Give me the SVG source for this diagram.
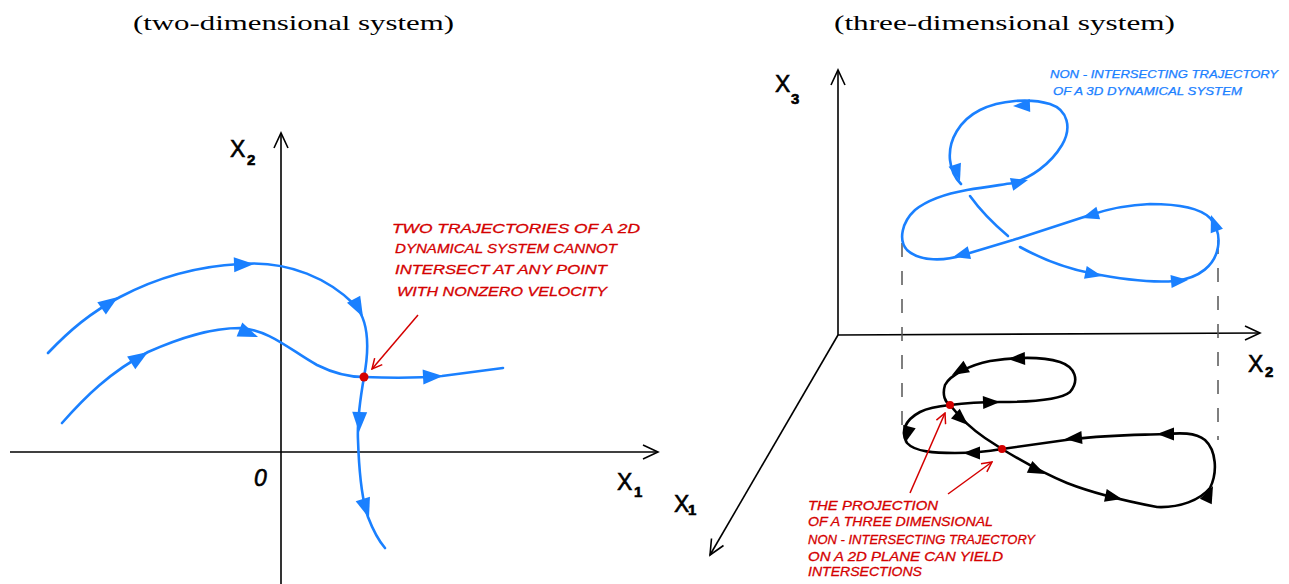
<svg xmlns="http://www.w3.org/2000/svg" xmlns:xlink="http://www.w3.org/1999/xlink" width="1289" height="584" viewBox="0 0 1289 584">
<style>
.title{font-family:"Liberation Serif","DejaVu Serif",serif;font-size:22px;fill:#000}
.ax{stroke:#000;stroke-width:1.6;fill:none}
.axl{font-family:"Liberation Sans","DejaVu Sans",sans-serif;font-size:23px;fill:#000;stroke:#000;stroke-width:0.6}
.sub{font-size:15px;font-weight:bold}
.blue{stroke:#1a80ff;stroke-width:2.6;fill:none;stroke-linecap:round;stroke-linejoin:round}
.blk{stroke:#000;stroke-width:2.6;fill:none;stroke-linecap:round;stroke-linejoin:round}
.red{stroke:#d40000;stroke-width:1.5;fill:none}
.rtxt{font-family:"Liberation Sans","DejaVu Sans",sans-serif;font-size:13px;fill:#d40000;stroke:#d40000;stroke-width:0.3;font-style:italic}
.btxt{font-family:"Liberation Sans","DejaVu Sans",sans-serif;font-size:10.5px;fill:#1a80ff;stroke:#1a80ff;stroke-width:0.25;font-style:italic}
.dash{stroke:#555;stroke-width:1.5;stroke-dasharray:14 14;fill:none}
</style>
<defs>
<path id="ah" d="M0,0 L-20,-7.5 L-20,7.5 Z"/>
<path id="ahs" d="M0,0 L-17,-6.5 L-17,6.5 Z"/>
<marker id="rarr" viewBox="0 0 12 12" refX="11" refY="6" markerWidth="12" markerHeight="12" markerUnits="userSpaceOnUse" orient="auto">
<path d="M1,1 L11,6 L1,11" fill="none" stroke="#d40000" stroke-width="1.5"/>
</marker>
</defs>
<rect width="1289" height="584" fill="#fff"/>

<text class="title" x="293.5" y="30" text-anchor="middle" textLength="321" lengthAdjust="spacingAndGlyphs">(two-dimensional system)</text>
<text class="title" x="1004.5" y="30" text-anchor="middle" textLength="341" lengthAdjust="spacingAndGlyphs">(three-dimensional system)</text>

<g id="left-axes">
<line class="ax" x1="10" y1="452" x2="658" y2="452"/>
<polyline class="ax" points="643,445 658,452 643,459"/>
<line class="ax" x1="281" y1="584" x2="281" y2="133"/>
<polyline class="ax" points="274,148 281,133 288,148"/>
<text class="axl" x="230" y="157">X<tspan class="sub" x="247" y="165">2</tspan></text>
<text class="axl" x="617" y="490">X<tspan class="sub" x="634" y="497">1</tspan></text>
<text class="axl" x="254" y="486" font-style="italic" font-size="27">0</text>
</g>

<g id="left-trajectories">
<path class="blue" d="M48,353 C70,330 90,313 120,297 C160,276 200,266 240,264 C290,260 330,280 355,305 C368,320 370,345 364,377 C360,400 357,420 358,440 C359,470 362,500 368,517 C373,530 378,540 385,548"/>
<path class="blue" d="M62,423 C85,397 110,372 148,352 C180,338 210,328 240,328 C270,330 290,350 317,365 C335,374 350,377 364,377 C390,378 420,378 442,376 L503,368"/>
<g fill="#1a80ff">
<use xlink:href="#ah" transform="translate(118,297) rotate(-35)"/>
<use xlink:href="#ah" transform="translate(254,264) rotate(-2)"/>
<use xlink:href="#ah" transform="translate(363,317) rotate(62)"/>
<use xlink:href="#ah" transform="translate(359,432) rotate(92)"/>
<use xlink:href="#ah" transform="translate(369,518) rotate(72)"/>
<use xlink:href="#ah" transform="translate(148,352) rotate(-33)"/>
<use xlink:href="#ah" transform="translate(258,337) rotate(22)"/>
<use xlink:href="#ah" transform="translate(443,376) rotate(-3)"/>
</g>
<circle cx="364" cy="377" r="4.5" fill="#d40000"/>
<line class="red" x1="418" y1="315" x2="372" y2="369" marker-end="url(#rarr)"/>
<text class="rtxt" x="392" y="233" textLength="248" lengthAdjust="spacingAndGlyphs">TWO TRAJECTORIES   OF A 2D</text>
<text class="rtxt" x="395" y="253" textLength="222" lengthAdjust="spacingAndGlyphs">DYNAMICAL SYSTEM CANNOT</text>
<text class="rtxt" x="395" y="274" textLength="212" lengthAdjust="spacingAndGlyphs">INTERSECT AT ANY POINT</text>
<text class="rtxt" x="397" y="296" textLength="210" lengthAdjust="spacingAndGlyphs">WITH NONZERO VELOCITY</text>
</g>

<g id="right-axes">
<line class="ax" x1="838" y1="335" x2="838" y2="70"/>
<polyline class="ax" points="831,85 838,70 845,85"/>
<line class="ax" x1="838" y1="335" x2="1260" y2="333"/>
<polyline class="ax" points="1245,326 1260,333 1245,340"/>
<line class="ax" x1="838" y1="335" x2="710" y2="555"/>
<polyline class="ax" points="711.5,538.5 710,555 723.5,545.5"/>
<text class="axl" x="775" y="92">X<tspan class="sub" x="791" y="104">3</tspan></text>
<text class="axl" x="1248" y="372">X<tspan class="sub" x="1265" y="377">2</tspan></text>
<text class="axl" x="674" y="512">X<tspan class="sub" x="688" y="515">1</tspan></text>
<line class="dash" x1="902" y1="243" x2="902" y2="432"/>
<line class="dash" x1="1218" y1="240" x2="1218" y2="440"/>
</g>

<g id="trajectory-3d">
<path class="blue" d="M1020,247 C1040,258 1065,268 1090,273 C1120,279 1150,283 1175,281 C1200,278 1215,265 1218,247 C1220,235 1216,225 1210,218 C1200,208 1180,204 1150,204 C1125,205 1105,210 1090,215 L1013,240 L963,255 C945,261 920,262 907,250 C898,240 902,222 915,210 C930,198 950,193 967,190 C985,187 1000,185 1013,183 C1030,178 1050,165 1062,145 C1072,128 1068,110 1050,104 C1030,98 1000,100 980,110 C960,120 948,140 950,160 C951,170 955,178 961,184"/>
<path class="blue" d="M970,196 C980,210 995,225 1008,236"/>
<g fill="#1a80ff">
<use xlink:href="#ahs" transform="translate(1013,106) rotate(178)"/>
<use xlink:href="#ahs" transform="translate(960,181) rotate(72)"/>
<use xlink:href="#ahs" transform="translate(1028,180) rotate(-15)"/>
<use xlink:href="#ahs" transform="translate(1082,218) rotate(163)"/>
<use xlink:href="#ahs" transform="translate(953,257) rotate(165)"/>
<use xlink:href="#ahs" transform="translate(1102,276) rotate(12)"/>
<use xlink:href="#ahs" transform="translate(1188,280) rotate(-5)"/>
<use xlink:href="#ahs" transform="translate(1211,215) rotate(-110)"/>
</g>
<text class="btxt" x="1050" y="78" textLength="228" lengthAdjust="spacingAndGlyphs">NON - INTERSECTING TRAJECTORY</text>
<text class="btxt" x="1053" y="95" textLength="189" lengthAdjust="spacingAndGlyphs">OF  A  3D  DYNAMICAL  SYSTEM</text>
</g>

<g id="projection-2d">
<path class="blk" d="M950,405 C965,403 985,402 1000,402 C1030,402 1060,400 1070,392 C1080,380 1075,367 1060,362 C1040,356 1010,358 990,361 C970,365 950,375 945,385 C942,395 945,402 950,405 C958,415 970,428 985,438 L1002,449 C1020,460 1040,472 1067,483 C1090,492 1120,500 1157,507 C1180,508 1200,500 1210,488 C1218,472 1216,450 1205,440 C1195,432 1180,433 1163,434 C1140,435 1110,435 1073,439 L1002,449 C985,452 970,453 955,453 C935,453 915,452 907,443 C900,432 905,420 920,412 C930,407 940,406 950,405 Z"/>
<g fill="#000">
<use xlink:href="#ahs" transform="translate(1000,402) rotate(-2)"/>
<use xlink:href="#ahs" transform="translate(1008,359) rotate(178)"/>
<use xlink:href="#ahs" transform="translate(952,375) rotate(150)"/>
<use xlink:href="#ahs" transform="translate(968,425) rotate(42)"/>
<use xlink:href="#ahs" transform="translate(1045,474) rotate(25)"/>
<use xlink:href="#ahs" transform="translate(1122,499) rotate(12)"/>
<use xlink:href="#ahs" transform="translate(1213,486) rotate(-65)"/>
<use xlink:href="#ahs" transform="translate(1157,434) rotate(180)"/>
<use xlink:href="#ahs" transform="translate(1065,439) rotate(175)"/>
<use xlink:href="#ahs" transform="translate(963,453) rotate(180)"/>
<use xlink:href="#ahs" transform="translate(905,443) rotate(105)"/>
</g>
<circle cx="950" cy="405" r="4" fill="#d40000"/>
<circle cx="1002" cy="449" r="4" fill="#d40000"/>
<line class="red" x1="910" y1="493" x2="945" y2="413" marker-end="url(#rarr)"/>
<line class="red" x1="948" y1="494" x2="992" y2="462" marker-end="url(#rarr)"/>
<text class="rtxt" x="808" y="510" textLength="130" lengthAdjust="spacingAndGlyphs">THE  PROJECTION</text>
<text class="rtxt" x="808" y="526" textLength="185" lengthAdjust="spacingAndGlyphs">OF A THREE DIMENSIONAL</text>
<text class="rtxt" x="808" y="544" textLength="227" lengthAdjust="spacingAndGlyphs">NON - INTERSECTING TRAJECTORY</text>
<text class="rtxt" x="808" y="561" textLength="195" lengthAdjust="spacingAndGlyphs">ON A 2D PLANE CAN YIELD</text>
<text class="rtxt" x="808" y="576" textLength="114" lengthAdjust="spacingAndGlyphs">INTERSECTIONS</text>
</g>
</svg>
